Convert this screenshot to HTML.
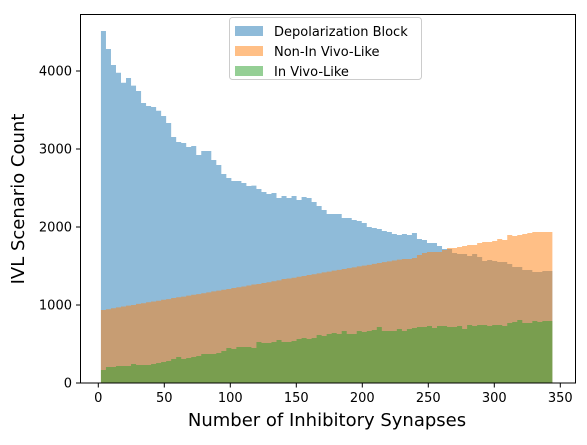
<!DOCTYPE html>
<html><head><meta charset="utf-8"><style>
html,body{margin:0;padding:0;background:#fff;}
svg text{font-family:"DejaVu Sans","Liberation Sans",sans-serif;}
</style></head><body>
<svg id="chart" width="587" height="440" viewBox="0 0 587 440" xmlns="http://www.w3.org/2000/svg">
<g id="bars"></g>
<rect x="80.5" y="14.5" width="495" height="368.5" fill="none" stroke="#000" stroke-width="1"/>
<g id="xticks"></g>
<g id="yticks"></g>
<text x="327" y="426" font-size="18" text-anchor="middle">Number of Inhibitory Synapses</text>
<text transform="translate(24,199) rotate(-90)" font-size="18" text-anchor="middle">IVL Scenario Count</text>
<g>
<rect x="229.5" y="17.5" width="192" height="62" rx="3" fill="#fff" fill-opacity="0.8" stroke="#ccc"/>
<rect x="235" y="26" width="28" height="10" fill="#1f77b4" fill-opacity="0.5"/>
<text x="274" y="36" font-size="13">Depolarization Block</text>
<rect x="235" y="46" width="28" height="10" fill="#ff7f0e" fill-opacity="0.5"/>
<text x="274" y="56" font-size="13">Non-In Vivo-Like</text>
<rect x="235" y="66" width="28" height="10" fill="#2ca02c" fill-opacity="0.5"/>
<text x="274" y="76" font-size="13">In Vivo-Like</text>
</g>
</svg>
<script>
const binStart = 2;
const binWidth = 3.8;
const depolarization = [4513,4282,4077,3978,3850,3910,3812,3744,3590,3551,3538,3491,3423,3333,3154,3090,3077,3026,3038,2923,2974,2974,2859,2795,2680,2628,2590,2590,2564,2526,
2530,2487,2449,2423,2436,2372,2397,2372,2397,2346,2385,2372,2321,2269,2218,2167,2167,2167,2115,2115,2090,2077,2051,2000,1987,1974,1949,1936,1910,1897,
1910,1897,1923,1846,1833,1795,1795,1756,1718,1718,1667,1654,1654,1628,1654,1615,1564,1577,1564,1551,1551,1526,1487,1487,1449,1449,1423,1423,1436,1436];
const nonInVivo = [936,945,958,970,980,992,1000,1015,1022,1035,1045,1055,1068,1075,1090,1100,1108,1120,1132,1140,1150,1162,1175,1185,1195,1205,1218,1228,1238,1250,
1262,1270,1282,1292,1305,1315,1333,1340,1350,1362,1372,1385,1395,1405,1418,1428,1440,1450,1462,1472,1483,1495,1505,1515,1528,1538,1550,1560,1570,1582,
1590,1590,1603,1641,1667,1679,1679,1679,1705,1731,1731,1744,1756,1769,1769,1795,1808,1808,1820,1846,1833,1897,1884,1897,1910,1923,1936,1936,1936,1936];
const inVivo = [167,205,205,218,218,218,244,231,231,231,244,256,269,282,308,333,308,320,333,346,372,372,372,385,410,449,436,461,461,461,449,526,513,513,526,551,526,526,538,564,577,564,577,615,602,628,641,628,667,628,628,667,654,667,679,718,667,667,667,692,667,692,705,718,718,731,705,731,731,718,718,731,692,744,731,744,744,731,744,744,731,769,782,808,769,769,795,782,795,795];
const xTicks = [0,50,100,150,200,250,300,350];
const yTicks = [0,1000,2000,3000,4000];

const X0 = 98.3, XS = 66/50;
const Y0 = 383, YS = 78/1000;
function xs(v){return X0 + v*XS;}
function ys(v){return Y0 - v*YS;}
const NS = "http://www.w3.org/2000/svg";
const bars = document.getElementById('bars');
function series(vals, color, name){
  let d = 'M' + xs(binStart).toFixed(2) + ' ' + Y0;
  vals.forEach((v,i)=>{
    const x1 = xs(binStart + i*binWidth), x2 = xs(binStart + (i+1)*binWidth);
    d += ' L' + x1.toFixed(2) + ' ' + ys(v).toFixed(2) + ' L' + x2.toFixed(2) + ' ' + ys(v).toFixed(2);
  });
  d += ' L' + xs(binStart + vals.length*binWidth).toFixed(2) + ' ' + Y0 + ' Z';
  const p = document.createElementNS(NS,'path');
  
  
  p.setAttribute('d', d);
  p.setAttribute('fill', color);
  p.setAttribute('fill-opacity', '0.5');
  bars.appendChild(p);
}
series(depolarization,'#1f77b4','series-depolarization-block');
series(nonInVivo,'#ff7f0e','series-non-in-vivo-like');
series(inVivo,'#2ca02c','series-in-vivo-like');

const xg = document.getElementById('xticks');
xTicks.forEach(t=>{
  const l = document.createElementNS(NS,'line');
  
  
  l.setAttribute('x1',xs(t)); l.setAttribute('x2',xs(t));
  l.setAttribute('y1',383); l.setAttribute('y2',387.5);
  l.setAttribute('stroke','#000');
  xg.appendChild(l);
  const tx = document.createElementNS(NS,'text');
  
  
  tx.setAttribute('x',xs(t)); tx.setAttribute('y',402);
  tx.setAttribute('font-size','13'); tx.setAttribute('text-anchor','middle');
  tx.textContent = t;
  xg.appendChild(tx);
});
const yg = document.getElementById('yticks');
yTicks.forEach(t=>{
  const l = document.createElementNS(NS,'line');
  
  
  l.setAttribute('x1',76); l.setAttribute('x2',80.5);
  l.setAttribute('y1',ys(t)); l.setAttribute('y2',ys(t));
  l.setAttribute('stroke','#000');
  yg.appendChild(l);
  const tx = document.createElementNS(NS,'text');
  
  
  tx.setAttribute('x',72); tx.setAttribute('y',ys(t)+4.5);
  tx.setAttribute('font-size','13'); tx.setAttribute('text-anchor','end');
  tx.textContent = t;
  yg.appendChild(tx);
});
</script>
</body></html>
